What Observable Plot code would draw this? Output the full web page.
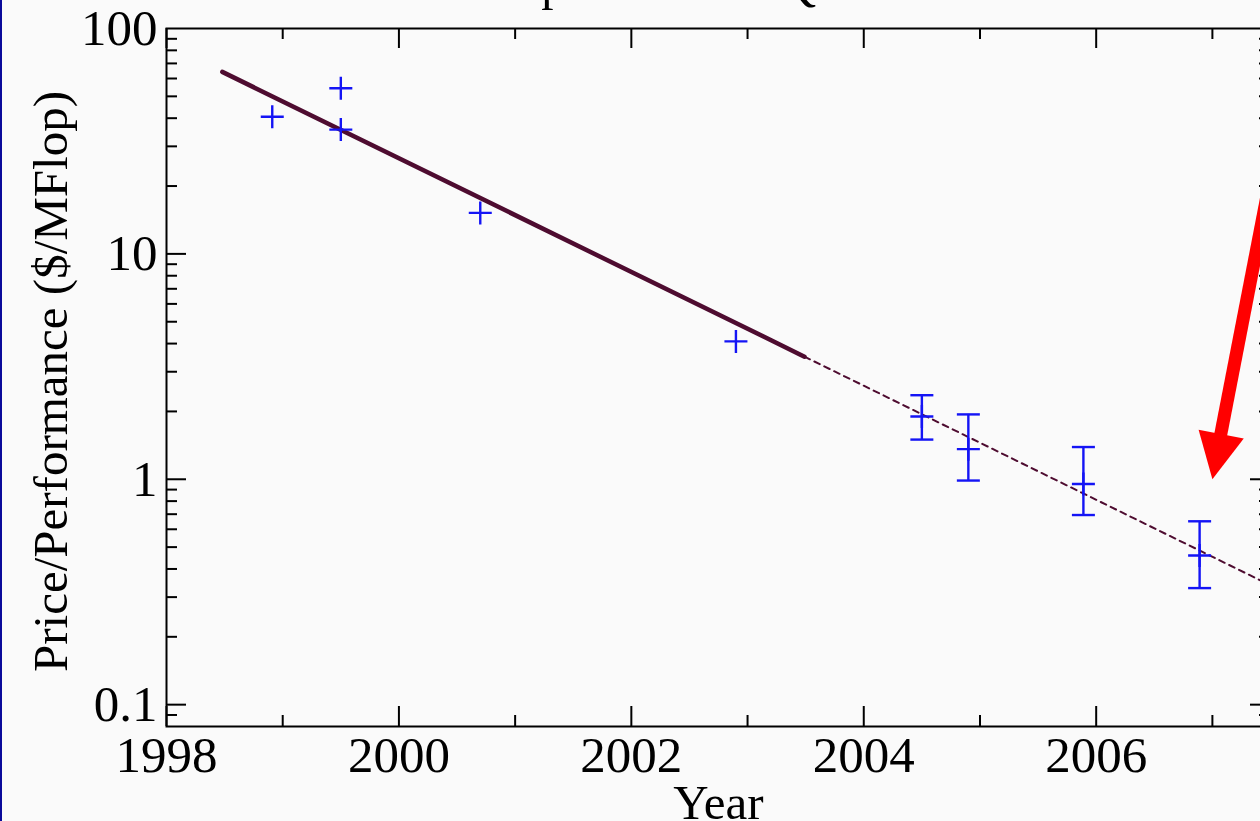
<!DOCTYPE html>
<html>
<head>
<meta charset="utf-8">
<script src="https://cdn.jsdelivr.net/npm/d3@7"></script>
<script src="https://cdn.jsdelivr.net/npm/@observablehq/plot@0.6"></script>
<style>
  html, body { margin: 0; padding: 0; background: #fafafa; overflow: hidden; }
  #wrap { position: relative; width: 1260px; height: 821px; overflow: hidden; background: #fafafa; }
  #stripe { position: absolute; left: 0; top: 0; width: 2px; height: 821px; background: #0a0a9a; }
</style>
</head>
<body>
<div id="wrap"><div id="chart"></div><div id="stripe"></div></div>
<script>
// ---- data ----
const titleText = "Cheapest Lattice QCD Clusters";
const xLabel = "Year";
const yLabel = "Price/Performance ($/MFlop)";

const crossYears  = [1998.91, 1999.50, 1999.50, 2000.70, 2002.90];
const crossValues = [40.6, 54.3, 35.6, 15.2, 4.09];

const errYears  = [2004.50, 2004.90, 2005.89, 2006.89];
const errValues = [1.90, 1.36, 0.953, 0.459];
const errLow    = [1.50, 0.987, 0.694, 0.329];
const errHigh   = [2.36, 1.94, 1.39, 0.651];

const fitYears  = [1998.48, 2003.49];
const fitValues = [64.2, 3.50];
const projYears  = [2003.49, 2007.5];
const projValues = [3.50, 0.3385];

const arrowTailX = 2007.547, arrowTailY = 29.0;
const arrowBaseX = 2007.058, arrowBaseY = 1.453;
const arrowTipX  = 2007.0,   arrowTipY  = 1.0;

const xTickLabels = [1998, 2000, 2002, 2004, 2006];
const xMajorTicks = [1998, 2000, 2002, 2004, 2006];
const xMinorTicks = [1999, 2001, 2003, 2005, 2007];
const yTickLabels = [0.1, 1, 10, 100];
const yMajorTicks = [0.1, 1, 10];
const yMinorTicks = [0.09, 0.2, 0.3, 0.4, 0.5, 0.6, 0.7, 0.8, 0.9,
                     2, 3, 4, 5, 6, 7, 8, 9, 20, 30, 40, 50, 60, 70, 80, 90];

// ---- layout ----
const W = 1290, H = 821, mL = 166, mR = 20, mT = 28, mB = 95;
const plotW = W - mL - mR, plotH = H - mT - mB;
const majorLen = 20, minorLen = 11;
const FONT = "Liberation Serif, Times New Roman, serif";
const FS = 49;
const TICK_FS = 51;

const crosses = crossYears.map((x, i) => ({x, y: crossValues[i]}));
const errs = errYears.map((x, i) => ({x, y: errValues[i], lo: errLow[i], hi: errHigh[i]}));
const fit = fitYears.map((x, i) => ({x, y: fitValues[i]}));
const proj = projYears.map((x, i) => ({x, y: projValues[i]}));

// custom symbols
const plusSym = {draw(ctx) { const a = 11.5; ctx.moveTo(-a, 0); ctx.lineTo(a, 0); ctx.moveTo(0, -a); ctx.lineTo(0, a); }};
const capSym = {draw(ctx) { const a = 11.5; ctx.moveTo(-a, 0); ctx.lineTo(a, 0); }};
const headAngle = 11 * Math.PI / 180;
const headSym = {draw(ctx) {
  const pts = [[0, 0], [-23, -46], [23, -46]].map(([x, y]) => [
    x * Math.cos(headAngle) - y * Math.sin(headAngle),
    x * Math.sin(headAngle) + y * Math.cos(headAngle)
  ]);
  ctx.moveTo(pts[0][0], pts[0][1]);
  ctx.lineTo(pts[1][0], pts[1][1]);
  ctx.lineTo(pts[2][0], pts[2][1]);
  ctx.closePath();
}};

const blue = "#1414f5";
const fitColor = "#4e0c30";

const chart = Plot.plot({
  width: W, height: H,
  marginLeft: mL, marginRight: mR, marginTop: mT, marginBottom: mB,
  style: {background: "#fafafa", fontFamily: FONT, color: "black", maxWidth: "none", overflow: "hidden"},
  x: {domain: [1998, 2007.5]},
  y: {type: "log", domain: [0.08, 100]},
  marks: [
    // tick labels
    Plot.axisX({ticks: xTickLabels, tickFormat: d => String(d), tickSize: 0, tickPadding: 9, fontSize: TICK_FS, label: null}),
    Plot.axisY({ticks: yTickLabels, tickFormat: d => String(d), tickSize: 0, tickPadding: 9, fontSize: TICK_FS, label: null}),
    // inward ticks: left & right
    Plot.tickY(yMajorTicks, {y: d => d, insetRight: plotW - majorLen, strokeWidth: 2}),
    Plot.tickY(yMinorTicks, {y: d => d, insetRight: plotW - minorLen, strokeWidth: 2}),
    Plot.tickY(yMajorTicks, {y: d => d, insetLeft: plotW - majorLen, strokeWidth: 2}),
    Plot.tickY(yMinorTicks, {y: d => d, insetLeft: plotW - minorLen, strokeWidth: 2}),
    // inward ticks: bottom & top
    Plot.tickX(xMajorTicks, {x: d => d, insetTop: plotH - majorLen, strokeWidth: 2}),
    Plot.tickX(xMinorTicks, {x: d => d, insetTop: plotH - minorLen, strokeWidth: 2}),
    Plot.tickX(xMajorTicks, {x: d => d, insetBottom: plotH - majorLen, strokeWidth: 2}),
    Plot.tickX(xMinorTicks, {x: d => d, insetBottom: plotH - minorLen, strokeWidth: 2}),
    Plot.frame({stroke: "black", strokeWidth: 2}),
    // axis titles
    Plot.text([xLabel], {text: d => d, frameAnchor: "bottom", lineAnchor: "bottom", dy: 92, fontSize: FS}),
    Plot.text([yLabel], {text: d => d, frameAnchor: "left", textAnchor: "middle", lineAnchor: "bottom", rotate: -90, dx: -100, dy: 4, fontSize: FS}),
    Plot.text([titleText], {text: d => d, frameAnchor: "top-left", textAnchor: "start", lineAnchor: "bottom", dx: 274, dy: -29, fontSize: FS}),
    // fit line + projection
    Plot.line(fit, {x: "x", y: "y", stroke: fitColor, strokeWidth: 4.5}),
    Plot.line(proj, {x: "x", y: "y", stroke: fitColor, strokeWidth: 2, strokeDasharray: "6,5"}),
    // data points
    Plot.dot(crosses, {x: "x", y: "y", symbol: plusSym, fill: "none", stroke: blue, strokeWidth: 2.4}),
    Plot.ruleX(errs, {x: "x", y1: "lo", y2: "hi", stroke: blue, strokeWidth: 2.4}),
    Plot.dot(errs, {x: "x", y: "lo", symbol: capSym, fill: "none", stroke: blue, strokeWidth: 2.4}),
    Plot.dot(errs, {x: "x", y: "hi", symbol: capSym, fill: "none", stroke: blue, strokeWidth: 2.4}),
    Plot.dot(errs, {x: "x", y: "y", symbol: plusSym, fill: "none", stroke: blue, strokeWidth: 2.4}),
    // red annotation arrow
    Plot.link([0], {x1: () => arrowTailX, y1: () => arrowTailY, x2: () => arrowBaseX, y2: () => arrowBaseY, stroke: "#ff0000", strokeWidth: 13}),
    Plot.dot([0], {x: () => arrowTipX, y: () => arrowTipY, symbol: headSym, fill: "#ff0000", stroke: "none"})
  ]
});
document.getElementById("chart").appendChild(chart);
</script>
</body>
</html>
